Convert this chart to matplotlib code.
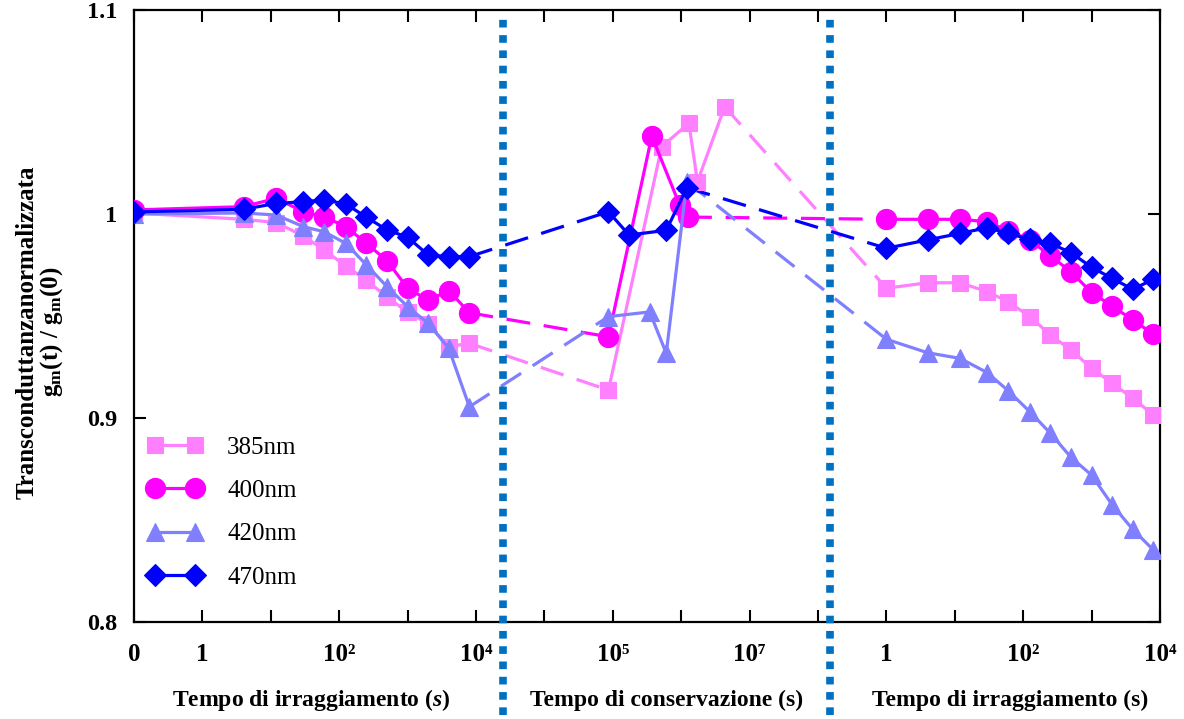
import numpy as np
import matplotlib
matplotlib.use("Agg")
import matplotlib.pyplot as plt
from matplotlib.transforms import blended_transform_factory

plt.rcParams['font.family'] = ['Liberation Serif', 'DejaVu Serif']
plt.rcParams['mathtext.fontset'] = 'custom'
plt.rcParams['mathtext.rm'] = 'Liberation Serif:bold'
plt.rcParams['mathtext.it'] = 'Liberation Serif:italic:bold'
plt.rcParams['mathtext.bf'] = 'Liberation Serif:bold'

# ---- data -------------------------------------------------------------
wavelengths = ['385nm', '400nm', '420nm', '470nm']
colors = ['#FF80FF', '#FF00FF', '#8080FF', '#0000FF']
markers = ['s', 'o', '^', 'D']
marker_sizes = [11.5, 14.5, 13.5, 11]

# first irradiation (seconds)
t_irr1 = [0, 4, 12, 30, 60, 125, 250, 500, 1000, 2000, 4000, 8000]
g385_irr1 = [1.0005, 0.9974, 0.9958, 0.9892, 0.9824, 0.9745, 0.9676, 0.9592, 0.952, 0.946, 0.935, 0.9366]
g400_irr1 = [1.002, 1.0036, 1.0077, 1.0011, 0.9987, 0.9938, 0.9856, 0.9771, 0.9636, 0.9578, 0.9624, 0.9516]
g420_irr1 = [1.0, 1.0005, 0.9995, 0.9938, 0.9913, 0.9856, 0.975, 0.9644, 0.9546, 0.9464, 0.9341, 0.9055]
g470_irr1 = [1.001, 1.0023, 1.0052, 1.006, 1.0069, 1.0049, 0.9984, 0.9922, 0.9886, 0.9799, 0.9791, 0.9791]

# storage (days)
d385_cons = [1, 6, 15, 20, 50]
g385_cons = [0.9137, 1.033, 1.0445, 1.0158, 1.0526]
d400_cons = [1, 4.3, 11, 14.5]
g400_cons = [0.9398, 1.0382, 1.0044, 0.9985]
d420_cons = [1, 4, 7, 14]
g420_cons = [0.9497, 0.952, 0.9317, 1.0158]
d470_cons = [1, 2, 7, 14]
g470_cons = [1.0011, 0.9897, 0.992, 1.0129]

# second irradiation (seconds)
t_irr2 = [1, 4, 12, 30, 60, 125, 250, 500, 1000, 2000, 4000, 8000]
g385_irr2 = [0.9636, 0.9663, 0.9663, 0.9619, 0.957, 0.9497, 0.9407, 0.9333, 0.9244, 0.917, 0.9097, 0.9015]
g400_irr2 = [0.9974, 0.9974, 0.9974, 0.9962, 0.9918, 0.9873, 0.9794, 0.9717, 0.9614, 0.9549, 0.948, 0.9412]
g420_irr2 = [0.9386, 0.932, 0.9292, 0.9222, 0.9134, 0.9031, 0.8925, 0.8807, 0.872, 0.8574, 0.8454, 0.8353]
g470_irr2 = [0.9832, 0.9873, 0.9905, 0.9933, 0.9905, 0.9876, 0.9856, 0.981, 0.9739, 0.9684, 0.9631, 0.968]

# composite time axis: one decade per unit in each panel
section_bounds = [5.395, 10.175]
tick_pos = list(range(16))
tick_text = {0: '0', 1: '1', 3: '10²', 5: '10⁴', 7: '10⁵', 9: '10⁷',
             11: '1', 13: '10²', 15: '10⁴'}
y_ticks = [0.8, 0.9, 1.0, 1.1]
y_tick_text = ['0.8', '0.9', '1', '1.1']


def pos_irr1(t):
    t = np.asarray(t, dtype=float)
    out = np.zeros_like(t)
    nz = t > 0
    out[nz] = 1 + np.log10(t[nz])
    return out


def pos_cons(days):
    return np.log10(np.asarray(days, dtype=float) * 86400.0) + 2


def pos_irr2(t):
    return 11 + np.log10(np.asarray(t, dtype=float))


series = [
    (pos_irr1(t_irr1), g385_irr1, pos_cons(d385_cons), g385_cons, pos_irr2(t_irr2), g385_irr2),
    (pos_irr1(t_irr1), g400_irr1, pos_cons(d400_cons), g400_cons, pos_irr2(t_irr2), g400_irr2),
    (pos_irr1(t_irr1), g420_irr1, pos_cons(d420_cons), g420_cons, pos_irr2(t_irr2), g420_irr2),
    (pos_irr1(t_irr1), g470_irr1, pos_cons(d470_cons), g470_cons, pos_irr2(t_irr2), g470_irr2),
]

# ---- figure -----------------------------------------------------------
fig = plt.figure(figsize=(11.84, 7.19), dpi=100)
ax = fig.add_axes([134 / 1184, 1 - 622 / 719, (1160 - 134) / 1184, (622 - 10) / 719])

lw = 2.3
dash = (0, (7.5, 4.3))
handles = []
for k, (x1, y1, x2, y2, x3, y3) in enumerate(series):
    c = colors[k]
    z = 3 + k * 0.1
    # dashed connectors between panels
    ax.plot([x1[-1], x2[0]], [y1[-1], y2[0]], color=c, lw=lw, linestyle=dash, zorder=2)
    ax.plot([x2[-1], x3[0]], [y2[-1], y3[0]], color=c, lw=lw, linestyle=dash, zorder=2)
    for xs, ys in ((x1, y1), (x2, y2), (x3, y3)):
        ln, = ax.plot(xs, ys, color=c, lw=lw, marker=markers[k], ms=marker_sizes[k],
                      mfc=c, mec=c, mew=0.8, zorder=z)
    handles.append(ln)

# dotted panel separators
for xb in section_bounds:
    ax.plot([xb, xb], [0.7544, 1.098], color='#0070C0', lw=5.5, linestyle=(0, (1, 1)),
            dash_capstyle='butt', solid_capstyle='butt', clip_on=False, zorder=6)

ax.set_xlim(0, 15)
ax.set_ylim(0.8, 1.1)
ax.set_xticks(tick_pos)
ax.set_xticklabels([tick_text.get(p, '') for p in tick_pos], fontsize=18, fontweight='bold')
ax.set_yticks(y_ticks)
ax.set_yticklabels(y_tick_text, fontsize=17.5, fontweight='bold')
ax.tick_params(axis='both', direction='in', length=8.5, width=1.5, top=True, right=True)
ax.tick_params(axis='x', pad=15)
ax.tick_params(axis='y', pad=12)
for s in ax.spines.values():
    s.set_linewidth(1.6)

# axis titles
fig.text(27 / 1184, 1 - 332 / 719, 'Transconduttanzanormalizzata', rotation=90,
         ha='center', va='center', fontsize=18, fontweight='bold')
fig.text(52 / 1184, 1 - 332 / 719, r'$\mathrm{g_m(t)\ /\ g_m(0)}$', rotation=90,
         ha='center', va='center', fontsize=18)

trans = blended_transform_factory(ax.transData, fig.transFigure)
yl = 1 - 700 / 719
ax.text((311 - 134) / 68.4, yl, r'Tempo di irraggiamento ($\mathit{s}$)', transform=trans,
        ha='center', va='center', fontsize=17, fontweight='bold')
ax.text((667 - 134) / 68.4, yl, 'Tempo di conservazione (s)', transform=trans,
        ha='center', va='center', fontsize=17, fontweight='bold')
ax.text((1010 - 134) / 68.4, yl, 'Tempo di irraggiamento (s)', transform=trans,
        ha='center', va='center', fontsize=17, fontweight='bold')

fig.legend(handles, wavelengths, loc='upper left', bbox_to_anchor=(147 / 1184, 1 - 436 / 719),
           frameon=False, numpoints=2, fontsize=18, handlelength=2.2, handletextpad=1.0,
           labelspacing=0.84, borderpad=0, borderaxespad=0)

fig.savefig('out.png', dpi=100)
